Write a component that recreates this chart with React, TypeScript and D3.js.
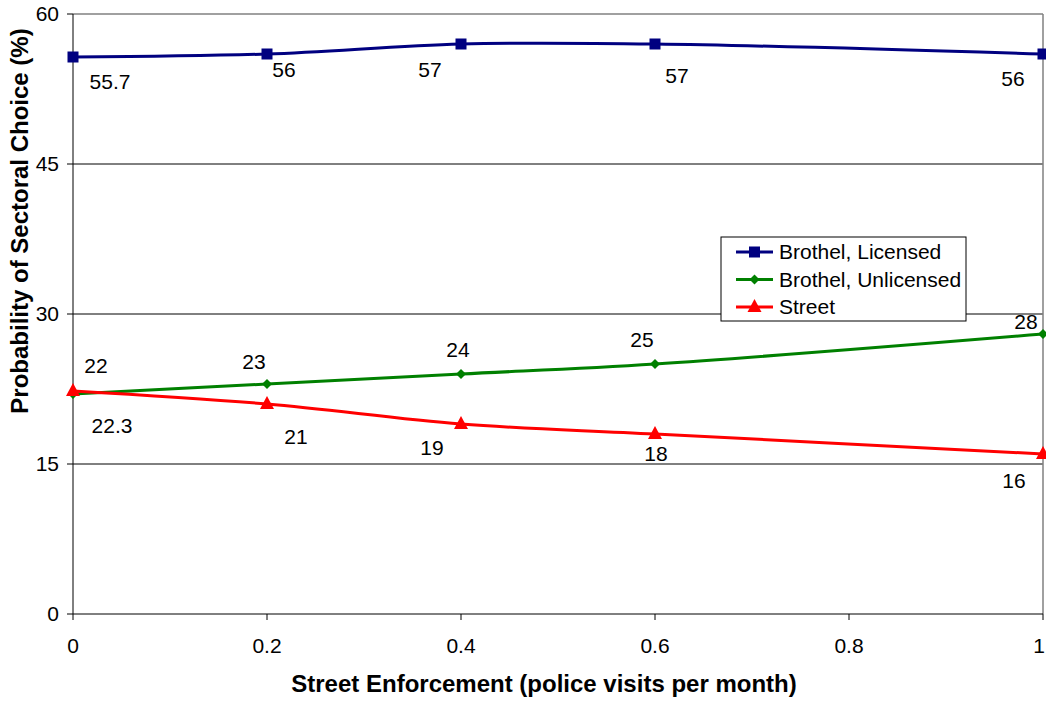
import React from "react";
import * as d3 from "d3";

// Enforcement levels (police visits per month)
const visits = [0, 0.2, 0.4, 0.6, 1];

// Probability of sectoral choice (%) for each sector
const licensed = [55.7, 56, 57, 57, 56];
const unlicensed = [22, 23, 24, 25, 28];
const street = [22.3, 21, 19, 18, 16];

const xTicks = [0, 0.2, 0.4, 0.6, 0.8, 1];
const yTicks = [0, 15, 30, 45, 60];

// Hand-placed data label offsets (dx, dy) relative to each point
const licensedLabelOffsets = [[37, 25], [17, 16], [-31, 26], [22, 32], [-30, 25]];
const unlicensedLabelOffsets = [[23, -28], [-13, -22], [-3, -24], [-13, -24], [-17, -12]];
const streetLabelOffsets = [[39, 35], [29, 33], [-29, 24], [1, 20], [-29, 27]];

const W = 1046;
const H = 702;

const FONT = "'Liberation Sans', Arial, sans-serif";
const LABEL_SIZE = 21;
const TITLE_SIZE = 24;

type Marker = "square" | "diamond" | "triangle";

interface Series {
  name: string;
  values: number[];
  color: string;
  marker: Marker;
  offsets: number[][];
}

const seriesList: Series[] = [
  { name: "Brothel, Licensed", values: licensed, color: "#000080", marker: "square", offsets: licensedLabelOffsets },
  { name: "Brothel, Unlicensed", values: unlicensed, color: "#008000", marker: "diamond", offsets: unlicensedLabelOffsets },
  { name: "Street", values: street, color: "#FF0000", marker: "triangle", offsets: streetLabelOffsets },
];

function MarkerShape({ type, x, y, color }: { type: Marker; x: number; y: number; color: string }) {
  if (type === "square") {
    return <rect x={x - 5.5} y={y - 5.5} width={11} height={11} fill={color} />;
  }
  if (type === "diamond") {
    return <path d={`M${x},${y - 5}L${x + 5},${y}L${x},${y + 5}L${x - 5},${y}Z`} fill={color} />;
  }
  return <path d={`M${x},${y - 8}L${x + 7},${y + 5}L${x - 7},${y + 5}Z`} fill={color} />;
}

export default function App() {
  const x = d3.scaleLinear().domain([0, 1]).range([73, 1043]);
  const y = d3.scaleLinear().domain([0, 60]).range([614, 14]);

  const line = d3
    .line<number>()
    .x((_, i) => x(visits[i]))
    .y((v) => y(v))
    .curve(d3.curveCatmullRom.alpha(0.5));

  const x0 = x(0);
  const x1 = x(1);
  const yTop = y(60);
  const yBot = y(0);

  const legendX = 721;
  const legendY = 237;

  return (
    <svg
      width={W}
      height={H}
      style={{ position: "absolute", left: 0, top: 0, background: "#fff" }}
      fontFamily={FONT}
    >
      {/* horizontal gridlines */}
      {yTicks.filter((t) => t > 0 && t < 60).map((t) => (
        <line key={t} x1={x0} x2={x1} y1={y(t)} y2={y(t)} stroke="#000" strokeWidth={1} />
      ))}
      {/* plot frame: top and right */}
      <line x1={x0} x2={x1} y1={yTop} y2={yTop} stroke="#808080" strokeWidth={1.5} />
      <line x1={x1} x2={x1} y1={yTop} y2={yBot} stroke="#808080" strokeWidth={1.5} />

      {/* y axis */}
      <line x1={x0} x2={x0} y1={yTop} y2={yBot} stroke="#000" strokeWidth={1} />
      {yTicks.map((t) => (
        <g key={t}>
          <line x1={x0 - 6} x2={x0} y1={y(t)} y2={y(t)} stroke="#000" />
          <text x={x0 - 14} y={y(t)} dy="0.35em" textAnchor="end" fontSize={LABEL_SIZE}>
            {t}
          </text>
        </g>
      ))}

      {/* x axis */}
      <line x1={x0} x2={x1} y1={yBot} y2={yBot} stroke="#000" strokeWidth={1} />
      {xTicks.map((t, i) => {
        const last = i === xTicks.length - 1;
        return (
          <g key={t}>
            <line x1={x(t)} x2={x(t)} y1={yBot} y2={yBot + 6} stroke="#000" />
            <text
              x={last ? x(t) + 2 : x(t)}
              y={yBot + 32}
              dy="0.35em"
              textAnchor={last ? "end" : "middle"}
              fontSize={LABEL_SIZE}
            >
              {t}
            </text>
          </g>
        );
      })}

      {/* series lines, markers, labels */}
      {seriesList.map((s) => (
        <g key={s.name}>
          <path d={line(s.values) || ""} fill="none" stroke={s.color} strokeWidth={3} />
          {s.values.map((v, i) => (
            <MarkerShape key={i} type={s.marker} x={x(visits[i])} y={y(v)} color={s.color} />
          ))}
          {s.values.map((v, i) => (
            <text
              key={"l" + i}
              x={x(visits[i]) + s.offsets[i][0]}
              y={y(v) + s.offsets[i][1]}
              dy="0.35em"
              textAnchor="middle"
              fontSize={LABEL_SIZE}
            >
              {v}
            </text>
          ))}
        </g>
      ))}

      {/* legend */}
      <rect x={legendX} y={legendY} width={245} height={84} fill="#fff" stroke="#000" strokeWidth={1} />
      {seriesList.map((s, i) => {
        const ly = legendY + 15 + i * 27.5;
        return (
          <g key={s.name}>
            <line x1={legendX + 15} x2={legendX + 52} y1={ly} y2={ly} stroke={s.color} strokeWidth={3} />
            <MarkerShape type={s.marker} x={legendX + 33.5} y={ly} color={s.color} />
            <text x={legendX + 58} y={ly} dy="0.35em" fontSize={LABEL_SIZE}>
              {s.name}
            </text>
          </g>
        );
      })}

      {/* axis titles */}
      <text x={544} y={684} dy="0.35em" textAnchor="middle" fontSize={TITLE_SIZE} fontWeight="bold">
        Street Enforcement (police visits per month)
      </text>
      <text
        transform={`translate(20,221) rotate(-90)`}
        dy="0.35em"
        textAnchor="middle"
        fontSize={TITLE_SIZE}
        fontWeight="bold"
      >
        Probability of Sectoral Choice (%)
      </text>
    </svg>
  );
}
